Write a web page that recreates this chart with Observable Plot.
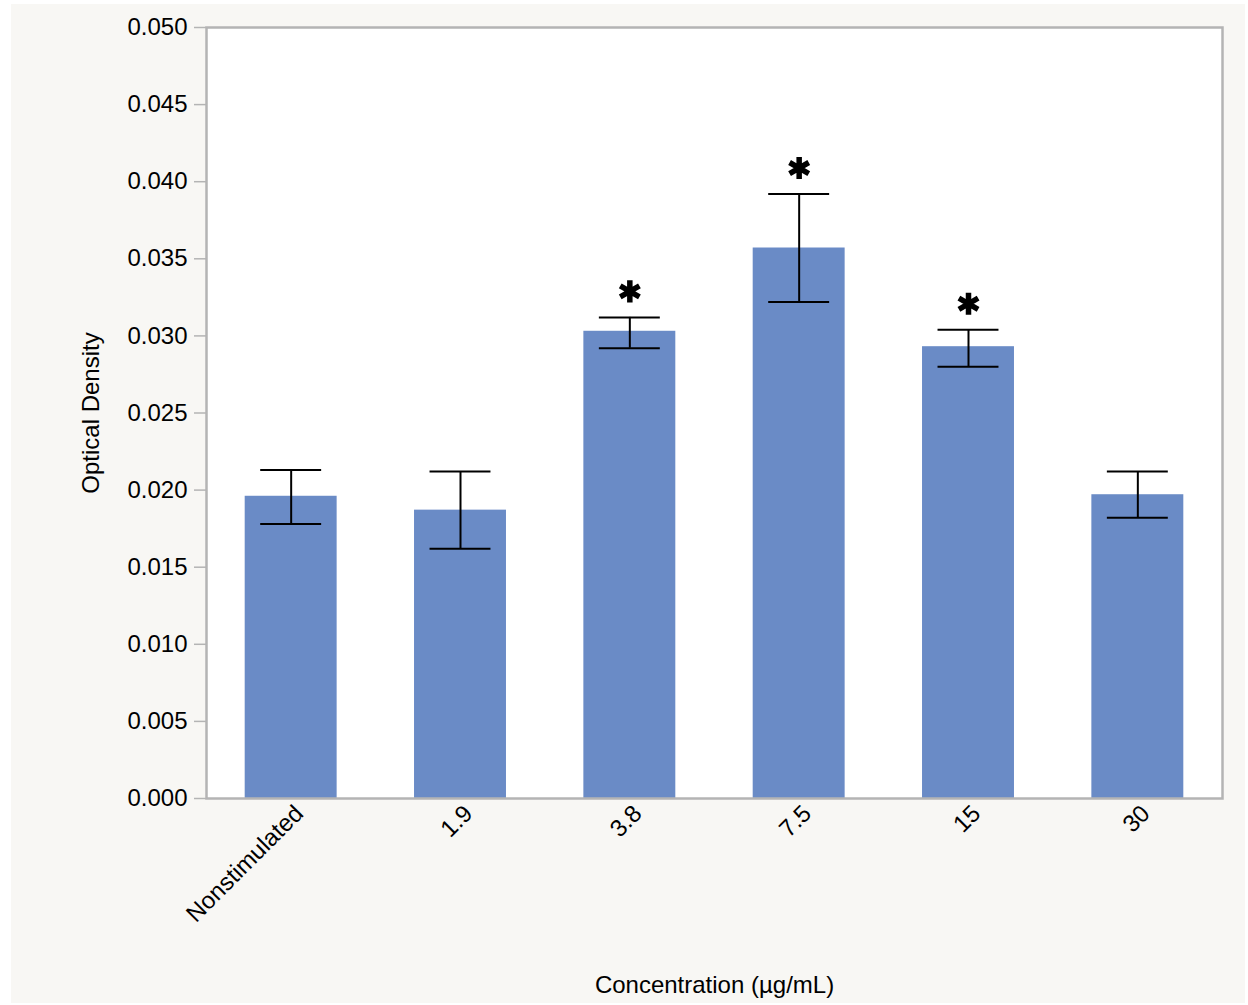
<!DOCTYPE html>
<html>
<head>
<meta charset="utf-8">
<script src="https://cdn.jsdelivr.net/npm/d3@7"></script>
<script src="https://cdn.jsdelivr.net/npm/@observablehq/plot@0.6"></script>
<style>
  html, body { margin: 0; padding: 0; background: #ffffff; width: 1248px; height: 1005px; overflow: hidden; }
  #card { position: absolute; left: 11px; top: 4px; width: 1234px; height: 999px; background: #f8f7f4; }
  #chart { position: absolute; left: 0; top: 0; }
</style>
</head>
<body>
<div id="card"></div>
<div id="chart"></div>
<script>
const categories = ["Nonstimulated", "1.9", "3.8", "7.5", "15", "30"];
const means = [0.0196, 0.0187, 0.0303, 0.0357, 0.0293, 0.0197];
const upper = [0.0213, 0.0212, 0.0312, 0.0392, 0.0304, 0.0212];
const lower = [0.0178, 0.0162, 0.0292, 0.0322, 0.0280, 0.0182];
const significant = [false, false, true, true, true, false];
const yTicks = [0, 0.005, 0.010, 0.015, 0.020, 0.025, 0.030, 0.035, 0.040, 0.045, 0.050];

const data = categories.map((c, i) => ({
  cat: c, mean: means[i], hi: upper[i], lo: lower[i], sig: significant[i]
}));

const chart = Plot.plot({
  width: 1248,
  height: 1005,
  marginLeft: 206,
  marginRight: 26,
  marginTop: 27,
  marginBottom: 207,
  style: { fontFamily: "'Liberation Sans', Arial, Helvetica, sans-serif", fontSize: "24px", background: "transparent", color: "#000" },
  x: { domain: categories, paddingInner: 0.457, paddingOuter: 0.2285, round: false },
  y: { domain: [0, 0.05] },
  marks: [
    Plot.frame({ fill: "#ffffff", stroke: "none" }),
    Plot.barY(data, { x: "cat", y: "mean", fill: "#6a8bc6" }),
    Plot.ruleX(data, { x: "cat", y1: "lo", y2: "hi", stroke: "#000", strokeWidth: 2 }),
    Plot.tickY(data, { x: "cat", y: "hi", stroke: "#000", strokeWidth: 2, insetLeft: 15.5, insetRight: 15.5 }),
    Plot.tickY(data, { x: "cat", y: "lo", stroke: "#000", strokeWidth: 2, insetLeft: 15.5, insetRight: 15.5 }),
    Plot.dot(data.filter(d => d.sig), { x: "cat", y: "hi", dy: -26, symbol: "asterisk", r: 10.5, stroke: "#000", strokeWidth: 5.5 }),
    Plot.frame({ stroke: "#b4b4b4", strokeWidth: 2.5, fill: "none" }),
    Plot.axisY({
      ticks: yTicks, tickFormat: d3.format(".3f"), tickSize: 12, tickPadding: 7,
      stroke: "#b4b4b4", strokeWidth: 1.5,
      label: "Optical Density", labelAnchor: "center", labelArrow: "none", labelOffset: 125
    }),
    Plot.axisX({
      tickSize: 0, tickPadding: 11, tickRotate: -45, dx: 8,
      label: "Concentration (µg/mL)", labelAnchor: "center", labelArrow: "none", labelOffset: 194
    })
  ]
});
document.getElementById("chart").appendChild(chart);
</script>
</body>
</html>
